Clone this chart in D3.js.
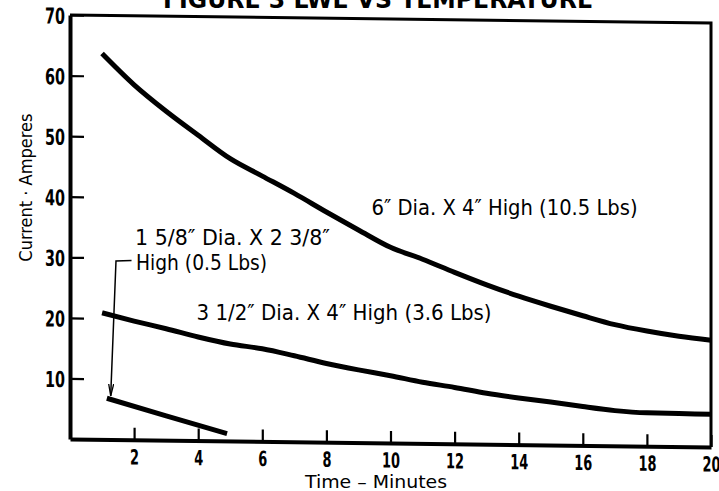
<!DOCTYPE html>
<html>
<head>
<meta charset="utf-8">
<script src="https://cdn.jsdelivr.net/npm/d3@7"></script>
<style>
  body { margin: 0; background: #fff; }
  svg { display: block; }
</style>
</head>
<body>
<svg width="719" height="491"></svg>
<script>
// values
const minutes = [1, 2, 3, 4, 5, 6, 7, 8, 9, 10, 11, 12, 13, 14, 15, 16, 17, 18, 19, 20];
const amps6in = [63.7, 58.6, 54.3, 50.4, 46.6, 43.8, 41.0, 38.0, 35.1, 32.3, 30.4, 28.3, 26.3, 24.5, 22.9, 21.4, 20.0, 19.0, 18.2, 17.6];
const amps35in = [20.9, 19.6, 18.4, 17.1, 16.0, 15.3, 14.2, 13.0, 12.0, 11.1, 10.1, 9.3, 8.4, 7.7, 7.1, 6.4, 5.8, 5.5, 5.45, 5.4];
const minutesSmall = [1.15, 3, 4.9];
const ampsSmall = [6.8, 4.0, 1.2];
const xTicks = [2, 4, 6, 8, 10, 12, 14, 16, 18, 20];
const yTicks = [10, 20, 30, 40, 50, 60, 70];

const condensed = '"Liberation Sans Narrow", "DejaVu Sans Condensed", "Arial Narrow", sans-serif';

const svg = d3.select("svg");
const width = +svg.attr("width");
const height = +svg.attr("height");

svg.append("rect").attr("width", width).attr("height", height).attr("fill", "#fff");

const x = d3.scaleLinear().domain([0, 20]).range([70, 711]);
const y = d3.scaleLinear().domain([0, 70]).range([439, 15]);

// title, mostly cut off at the top of the scan
svg.append("text")
  .attr("x", 378)
  .attr("y", 8)
  .attr("text-anchor", "middle")
  .attr("textLength", 430)
  .attr("lengthAdjust", "spacingAndGlyphs")
  .style("font-family", condensed)
  .style("font-weight", "bold")
  .style("font-size", "25px")
  .text("FIGURE 3  LWE  VS  TEMPERATURE");

// the scan is slightly sheared, so the plot box leans down to the right
const g = svg.append("g")
  .attr("transform", `translate(${x(0)},0) skewY(0.71) translate(${-x(0)},0)`);

// frame top / right
g.append("path")
  .attr("d", `M${x(0)},${y(70)}H${x(20)}V${y(0)}`)
  .attr("fill", "none")
  .attr("stroke", "#000")
  .attr("stroke-width", 3);

const xAxis = d3.axisBottom(x)
  .tickValues(xTicks)
  .tickSizeInner(-12)
  .tickSizeOuter(0)
  .tickPadding(10);

const yAxis = d3.axisLeft(y)
  .tickValues(yTicks)
  .tickSizeInner(-14)
  .tickSizeOuter(0)
  .tickPadding(5);

const xAxisG = g.append("g")
  .attr("transform", `translate(0,${y(0)})`)
  .call(xAxis);

const yAxisG = g.append("g")
  .attr("transform", `translate(${x(0)},0)`)
  .call(yAxis);

[xAxisG, yAxisG].forEach(a => {
  a.select(".domain").attr("stroke", "#000").attr("stroke-width", 4);
  a.selectAll(".tick line").attr("stroke", "#000").attr("stroke-width", 2.2);
  a.selectAll(".tick text")
    .attr("fill", "#000")
    .attr("lengthAdjust", "spacingAndGlyphs")
    .style("font-family", condensed)
    .style("font-weight", "bold")
    .style("font-size", "22px");
});
yAxisG.selectAll(".tick text")
  .attr("dy", "0.38em")
  .attr("textLength", d => String(d).length * 10);
xAxisG.selectAll(".tick text")
  .attr("dy", "0.7em")
  .style("font-size", "21px")
  .attr("textLength", d => String(d).length * 9);

// curves
const line = d3.line()
  .x(d => x(d[0]))
  .y(d => y(d[1]))
  .curve(d3.curveMonotoneX);

const series = [
  d3.zip(minutes, amps6in),
  d3.zip(minutes, amps35in),
  d3.zip(minutesSmall, ampsSmall)
];

g.selectAll(".curve")
  .data(series)
  .enter()
  .append("path")
  .attr("class", "curve")
  .attr("d", line)
  .attr("fill", "none")
  .attr("stroke", "#000")
  .attr("stroke-width", 5)
  .attr("stroke-linecap", "butt");

// pointer from the small-part label down to its line
svg.append("defs").append("marker")
  .attr("id", "arrow")
  .attr("viewBox", "0 0 12 6")
  .attr("refX", 12)
  .attr("refY", 3)
  .attr("markerWidth", 12)
  .attr("markerHeight", 6)
  .attr("markerUnits", "userSpaceOnUse")
  .attr("orient", "auto")
  .append("path")
  .attr("d", "M0,0.5L12,3L0,5.5")
  .attr("fill", "none")
  .attr("stroke", "#000")
  .attr("stroke-width", 1.3);

g.append("path")
  .attr("d", d3.line().x(d => x(d[0])).y(d => y(d[1]))([[1.92, 29.6], [1.435, 29.5], [1.27, 7.2]]))
  .attr("fill", "none")
  .attr("stroke", "#000")
  .attr("stroke-width", 1.5)
  .attr("marker-end", "url(#arrow)");

// curve labels
const labels = [
  { t: 9.41, v: 37.0, w: 266, text: "6\u2033 Dia. X 4\u2033 High (10.5 Lbs)" },
  { t: 3.95, v: 19.65, w: 295, text: "3 1/2\u2033 Dia. X 4\u2033 High (3.6 Lbs)" },
  { t: 2.03, v: 32.0, w: 195, text: "1 5/8\u2033 Dia. X 2 3/8\u2033" },
  { t: 2.06, v: 27.9, w: 131, text: "High (0.5 Lbs)" }
];

svg.selectAll(".label")
  .data(labels)
  .enter()
  .append("text")
  .attr("class", "label")
  .attr("x", d => x(d.t))
  .attr("y", d => y(d.v))
  .attr("textLength", d => d.w)
  .attr("lengthAdjust", "spacingAndGlyphs")
  .style("font-family", condensed)
  .style("font-size", "21px")
  .text(d => d.text);

// axis titles
svg.append("text")
  .attr("x", x(9.55))
  .attr("y", 488)
  .attr("text-anchor", "middle")
  .attr("textLength", 142)
  .attr("lengthAdjust", "spacingAndGlyphs")
  .style("font-family", condensed)
  .style("font-size", "18px")
  .text("Time \u2013 Minutes");

svg.append("text")
  .attr("transform", `translate(32,${y(41.5)}) rotate(-90)`)
  .attr("text-anchor", "middle")
  .attr("textLength", 148)
  .attr("lengthAdjust", "spacingAndGlyphs")
  .style("font-family", condensed)
  .style("font-size", "18px")
  .text("Current \u00b7 Amperes");
</script>
</body>
</html>
